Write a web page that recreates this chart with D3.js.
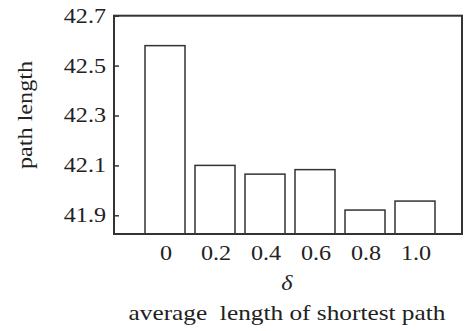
<!DOCTYPE html>
<html>
<head>
<meta charset="utf-8">
<script src="https://cdn.jsdelivr.net/npm/d3@7"></script>
<style>
  body { margin: 0; background: #fff; }
</style>
</head>
<body>
<div id="chart"></div>
<script>
const deltas = ["0", "0.2", "0.4", "0.6", "0.8", "1.0"];
const pathLengths = [42.58, 42.1, 42.065, 42.083, 41.921, 41.957];
const yTicks = [41.9, 42.1, 42.3, 42.5, 42.7];

const svgWidth = 465;
const svgHeight = 331;
const frame = { left: 114, top: 15.7, right: 462, bottom: 234 };
const serif = "'Liberation Serif', 'Times New Roman', 'DejaVu Serif', serif";
const stretch = 1.15; // reference glyphs look a bit wide

const svg = d3
  .select("#chart")
  .append("svg")
  .attr("width", svgWidth)
  .attr("height", svgHeight);

const xScale = d3
  .scaleBand()
  .domain(deltas)
  .range([140, 440])
  .paddingInner(0.2)
  .paddingOuter(0.1);

const yScale = d3
  .scaleLinear()
  .domain([41.825, 42.7])
  .range([frame.bottom, frame.top]);

// bars
svg
  .selectAll("rect.bar")
  .data(pathLengths)
  .enter()
  .append("rect")
  .attr("class", "bar")
  .attr("x", (d, i) => xScale(deltas[i]))
  .attr("y", (d) => yScale(d))
  .attr("width", xScale.bandwidth())
  .attr("height", (d) => frame.bottom - yScale(d))
  .attr("fill", "none")
  .attr("stroke", "#333")
  .attr("stroke-width", 1.5);

// y axis, ticks pointing inward
const yAxis = d3
  .axisRight(yScale)
  .tickValues(yTicks)
  .tickSize(5)
  .tickFormat("");

const gy = svg
  .append("g")
  .attr("transform", "translate(" + frame.left + ",0)")
  .call(yAxis);
gy.select(".domain").remove();
gy.selectAll(".tick line").attr("stroke", "#333").attr("stroke-width", 1.5);

svg
  .selectAll("text.ytick")
  .data(yTicks)
  .enter()
  .append("text")
  .attr("class", "ytick")
  .attr("x", 106)
  .attr("y", (d) => yScale(d) + 7)
  .attr("text-anchor", "end")
  .attr("font-size", 21)
  .text((d) => d.toFixed(1));

// frame
svg
  .append("rect")
  .attr("x", frame.left)
  .attr("y", frame.top)
  .attr("width", frame.right - frame.left)
  .attr("height", frame.bottom - frame.top)
  .attr("fill", "none")
  .attr("stroke", "#333")
  .attr("stroke-width", 2);

// x labels
svg
  .selectAll("text.xtick")
  .data(deltas)
  .enter()
  .append("text")
  .attr("class", "xtick")
  .attr("x", (d) => xScale(d) + xScale.bandwidth() / 2 + 1)
  .attr("y", 260)
  .attr("text-anchor", "middle")
  .attr("font-size", 21)
  .text((d) => d);

svg
  .append("text")
  .attr("x", 287)
  .attr("y", 290)
  .attr("text-anchor", "middle")
  .attr("font-size", 21)
  .attr("font-style", "italic")
  .text("δ");

svg
  .append("text")
  .attr("x", 287)
  .attr("y", 320)
  .attr("text-anchor", "middle")
  .attr("font-size", 22)
  .attr("xml:space", "preserve")
  .style("white-space", "pre")
  .text("average  length of shortest path");

svg
  .append("text")
  .attr("transform", "translate(32,115) rotate(-90)")
  .attr("text-anchor", "middle")
  .attr("font-size", 21)
  .text("path length");

// font + horizontal stretch on all labels
svg.selectAll("text").each(function () {
  const t = d3.select(this).attr("font-family", serif).attr("fill", "#222");
  const len = this.getComputedTextLength();
  t.attr("textLength", len * stretch).attr("lengthAdjust", "spacingAndGlyphs");
});
</script>
</body>
</html>
